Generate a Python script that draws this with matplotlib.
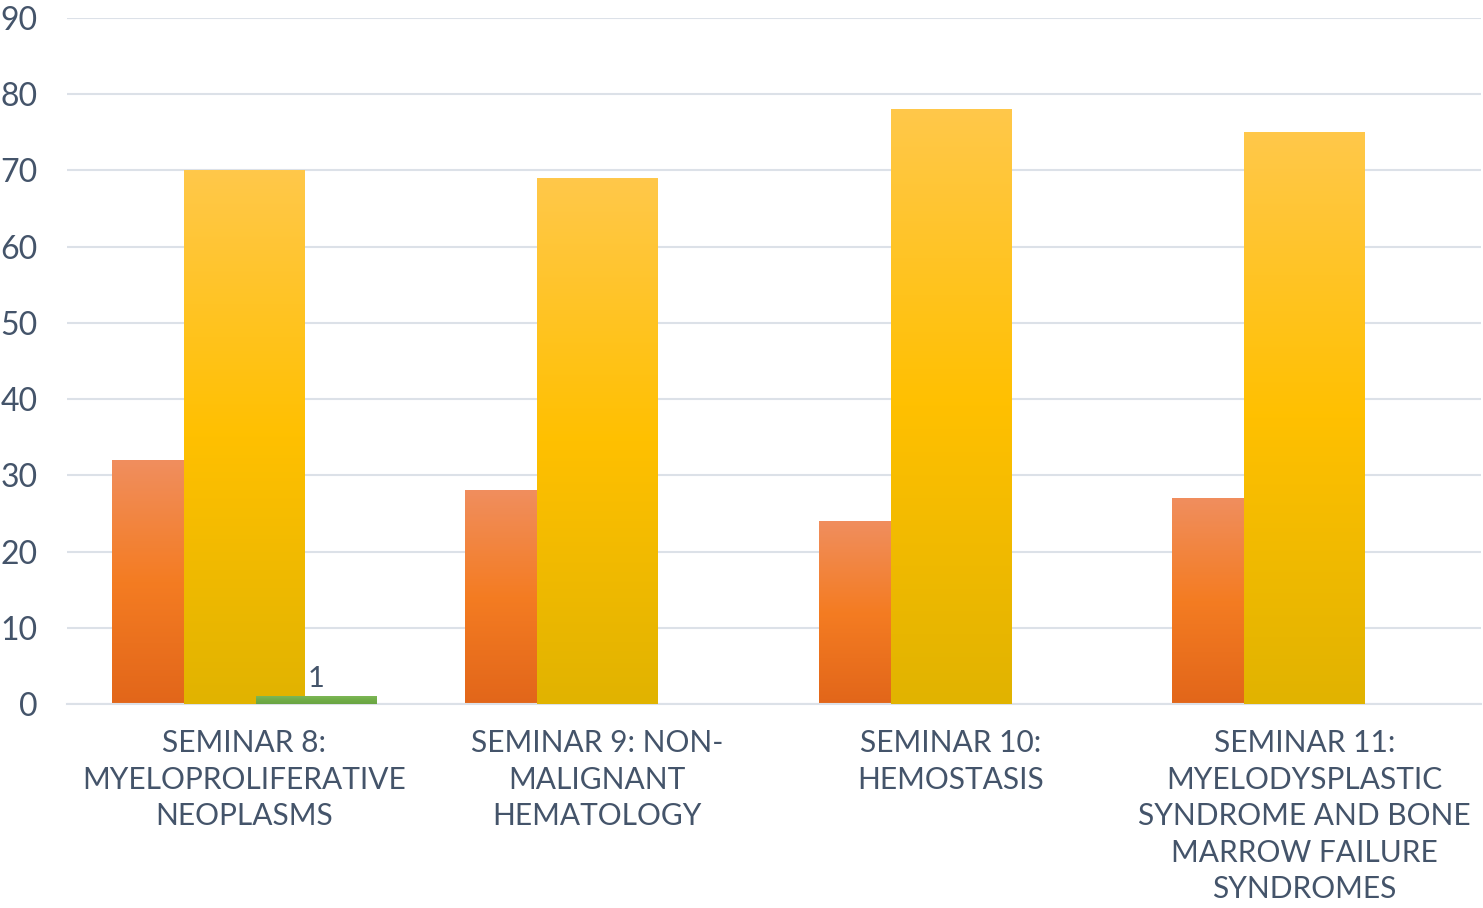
import numpy as np
import matplotlib
matplotlib.use("Agg")
import matplotlib.pyplot as plt
from matplotlib.colors import LinearSegmentedColormap

plt.rcParams['font.family'] = ['Lato', 'DejaVu Sans']

# data
categories = [
    "SEMINAR 8:\nMYELOPROLIFERATIVE\nNEOPLASMS",
    "SEMINAR 9: NON-\nMALIGNANT\nHEMATOLOGY",
    "SEMINAR 10:\nHEMOSTASIS",
    "SEMINAR 11:\nMYELODYSPLASTIC\nSYNDROME AND BONE\nMARROW FAILURE\nSYNDROMES",
]
orange_vals = [32, 28, 24, 27]
yellow_vals = [70, 69, 78, 75]
green_vals = [1, 0, 0, 0]
y_ticks = [0, 10, 20, 30, 40, 50, 60, 70, 80, 90]

text_col = "#44546A"
grid_col = "#DCE1E8"

# bottom -> middle -> top colours for each series
orange_map = LinearSegmentedColormap.from_list("o", ["#E2661A", "#F47C22", "#F08E5E"])
yellow_map = LinearSegmentedColormap.from_list("y", ["#E1B300", "#FFC000", "#FFC84A"])
green_map = LinearSegmentedColormap.from_list("g", ["#6AA443", "#70AD47", "#7DB757"])


def fill_gradient(ax, bars, cmap, z):
    """paint each bar with a vertical gradient"""
    grad = np.linspace(0, 1, 256).reshape(-1, 1)
    for b in bars:
        h = b.get_height()
        b.set_facecolor('none')
        if h <= 0:
            continue
        x0 = b.get_x()
        ax.imshow(grad, cmap=cmap, aspect='auto', origin='lower',
                  extent=(x0, x0 + b.get_width(), 0, h), zorder=z)


fig = plt.figure(figsize=(14.83, 9.08), dpi=100)
ax = fig.add_axes([67 / 1483, 204 / 908, 1414 / 1483, 686 / 908])

x = np.arange(len(categories))
w = 0.34
step = 0.2037

b1 = ax.bar(x - step, orange_vals, w, zorder=2, linewidth=0)
b2 = ax.bar(x, yellow_vals, w, zorder=3, linewidth=0)
b3 = ax.bar(x + step, green_vals, w, zorder=4, linewidth=0)
fill_gradient(ax, b1, orange_map, 2)
fill_gradient(ax, b2, yellow_map, 3)
fill_gradient(ax, b3, green_map, 4)

for xi, v in zip(x, green_vals):
    if v > 0:
        ax.text(xi + step, v + 0.6, str(v), ha='center', va='bottom',
                fontsize=21, color=text_col)

ax.set_xlim(-0.5, len(categories) - 0.5)
ax.set_ylim(0, 90)
ax.set_yticks(y_ticks)
ax.set_xticks(x)
ax.set_xticklabels(categories, fontsize=21.5, color=text_col, linespacing=1.37)
ax.tick_params(axis='y', length=0, pad=21, labelsize=23, labelcolor=text_col)
ax.tick_params(axis='x', length=0, pad=18)
ax.yaxis.grid(True, color=grid_col, linewidth=1.5, zorder=0)
ax.set_axisbelow(True)
for s in ['top', 'right', 'left']:
    ax.spines[s].set_visible(False)
ax.spines['bottom'].set_color(grid_col)
ax.spines['bottom'].set_linewidth(1.5)

fig.savefig("out.png", dpi=100)
